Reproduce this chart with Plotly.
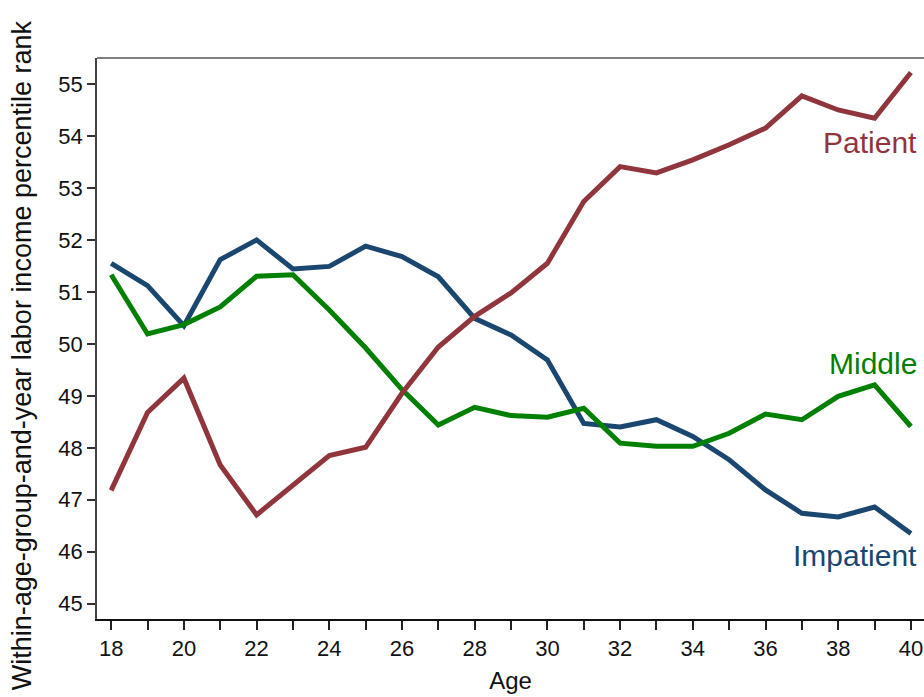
import plotly.graph_objects as go

ages = list(range(18, 41))
patient = [47.18, 48.68, 49.34, 47.67, 46.71, 47.29, 47.85, 48.01, 49.05, 49.94, 50.53, 50.98,
           51.55, 52.74, 53.41, 53.29, 53.54, 53.83, 54.15, 54.77, 54.50, 54.34, 55.22]
middle = [51.33, 50.19, 50.37, 50.71, 51.30, 51.33, 50.65, 49.92, 49.12, 48.44, 48.78, 48.62,
          48.59, 48.76, 48.09, 48.03, 48.03, 48.28, 48.65, 48.54, 48.99, 49.21, 48.41]
impatient = [51.55, 51.12, 50.35, 51.62, 52.00, 51.44, 51.49, 51.88, 51.68, 51.29, 50.49, 50.17,
             49.69, 48.47, 48.40, 48.54, 48.22, 47.77, 47.19, 46.74, 46.67, 46.86, 46.35]

series_names = ["Impatient", "Middle", "Patient"]
series_colors = ["#1A476F", "#008000", "#90353B"]
label_y = [45.93, 49.63, 53.87]
x_ticks = list(range(18, 41, 2))
y_ticks = list(range(45, 56))

FONT = "Liberation Sans, Arial, sans-serif"

fig = go.Figure()
for name, vals, col in zip(series_names, [impatient, middle, patient], series_colors):
    fig.add_trace(go.Scatter(x=ages, y=vals, mode="lines", name=name,
                             line=dict(color=col, width=5), showlegend=False))

for name, col, ly in zip(series_names, series_colors, label_y):
    fig.add_annotation(x=40.22, y=ly, xref="x", yref="y", text=name, showarrow=False,
                       xanchor="right", yanchor="middle",
                       font=dict(family=FONT, size=30, color=col))

fig.add_annotation(x=-0.0907, y=0.47, xref="paper", yref="paper",
                   text="Within-age-group-and-year labor income percentile rank",
                   showarrow=False, textangle=-90, xanchor="center", yanchor="middle",
                   font=dict(family=FONT, size=27, color="#111"))

fig.add_shape(type="line", xref="paper", yref="paper", x0=0, x1=1, y0=1, y1=1,
              line=dict(color="#555555", width=1.5))

fig.update_layout(
    width=924, height=697,
    margin=dict(l=97, r=0, t=58, b=78),
    plot_bgcolor="white", paper_bgcolor="white",
    font=dict(family=FONT, color="#111"),
    xaxis=dict(range=[17.61, 40.36], tickvals=x_ticks, ticks="outside", ticklen=9,
               tickwidth=1.5, tickcolor="#222", showline=True, linecolor="#111",
               linewidth=2, showgrid=False, zeroline=False,
               tickfont=dict(size=22, family=FONT, color="#111"),
               minor=dict(ticks="outside", dtick=1, tick0=18, ticklen=9, tickwidth=1.5,
                          tickcolor="#222", showgrid=False),
               title=dict(text="Age", font=dict(size=24, family=FONT, color="#111"),
                          standoff=12)),
    yaxis=dict(range=[44.706, 55.5], tickvals=y_ticks, ticks="outside", ticklen=8,
               tickwidth=1.5, tickcolor="#333", showline=True, linecolor="#444",
               linewidth=1.5, showgrid=False, zeroline=False,
               tickfont=dict(size=22, family=FONT, color="#111")),
)

fig.write_html("out.html")
